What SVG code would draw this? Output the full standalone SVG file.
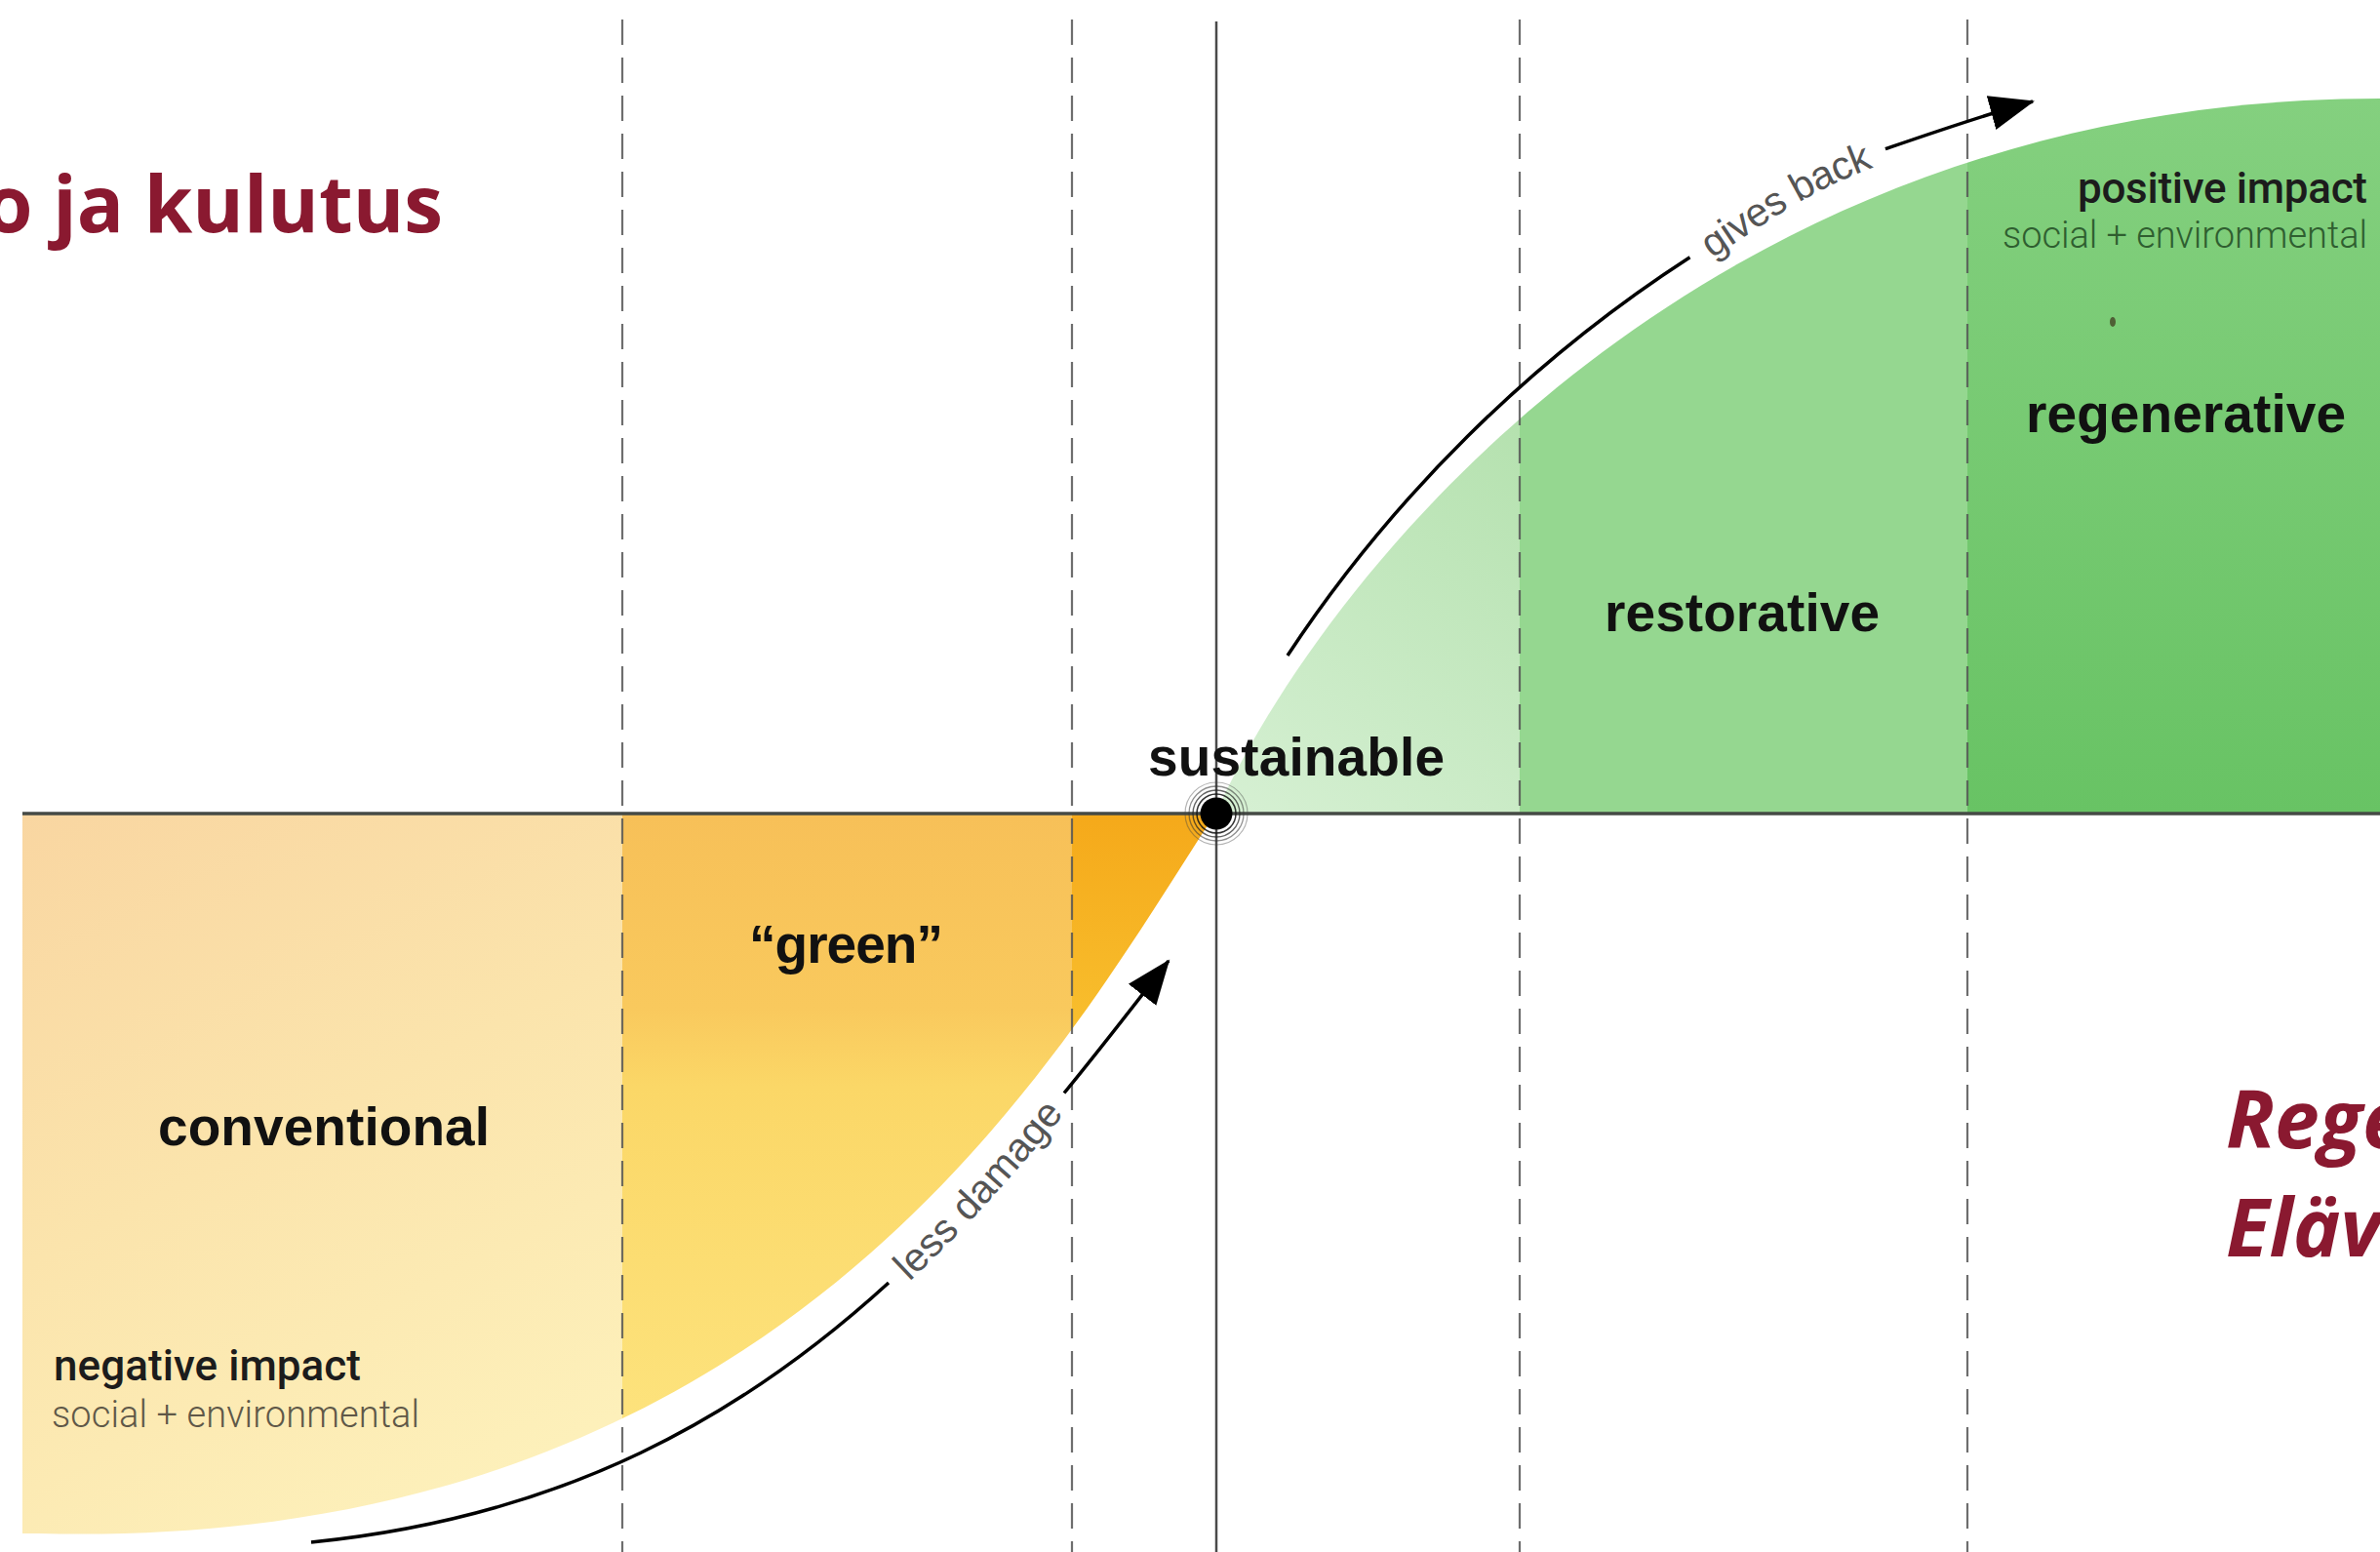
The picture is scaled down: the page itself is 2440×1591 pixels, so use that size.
<svg xmlns="http://www.w3.org/2000/svg" width="2440" height="1591" viewBox="0 0 2440 1591">
<style>
.lbl{font-family:"Liberation Sans",Arial,sans-serif;font-weight:700;font-size:55px;fill:#111}
.imp{font-family:Roboto,"Liberation Sans",Arial,sans-serif;font-weight:500;font-size:44px;fill:#1c1c1c}
.sub{font-family:Roboto,"Liberation Sans",Arial,sans-serif;font-weight:300;font-size:38px}
.arrtxt{font-family:"Liberation Sans",Arial,sans-serif;font-size:41px;fill:#555}
.title{font-family:"Open Sans","Noto Sans",sans-serif;font-weight:700;fill:#8a1930}
.dash{stroke:#555;stroke-width:2.2;stroke-dasharray:26 13;opacity:0.85}
.arrow{fill:none;stroke:#000;stroke-width:3.5}
</style>
<defs>
<clipPath id="clipOrange"><path d="M23,834 L1246,834 C1096,1062 820,1592 40,1572 L23,1572 Z"/></clipPath>
<clipPath id="clipGreen"><path d="M1246,834 C1368,568 1760,101 2440,101 L2440,834 Z"/></clipPath>
<linearGradient id="gConv" gradientUnits="userSpaceOnUse" x1="23" y1="834" x2="400" y2="1570">
<stop offset="0" stop-color="#f9d6a1"/><stop offset="0.5" stop-color="#fbe4ac"/><stop offset="1" stop-color="#fdf0ba"/>
</linearGradient>
<linearGradient id="gGreenLbl" gradientUnits="userSpaceOnUse" x1="0" y1="834" x2="0" y2="1500">
<stop offset="0" stop-color="#f7c058"/><stop offset="0.3" stop-color="#f9c95d"/><stop offset="0.42" stop-color="#fbd767"/><stop offset="1" stop-color="#fde47f"/>
</linearGradient>
<linearGradient id="gOr" gradientUnits="userSpaceOnUse" x1="0" y1="834" x2="0" y2="1060">
<stop offset="0" stop-color="#f5a91a"/><stop offset="1" stop-color="#f8bf2e"/>
</linearGradient>
<linearGradient id="gLight" gradientUnits="userSpaceOnUse" x1="1260" y1="834" x2="1558" y2="420">
<stop offset="0" stop-color="#d6f0d3"/><stop offset="1" stop-color="#b4e1ae"/>
</linearGradient>
<linearGradient id="gRegen" gradientUnits="userSpaceOnUse" x1="0" y1="100" x2="0" y2="834">
<stop offset="0" stop-color="#84d07f"/><stop offset="1" stop-color="#68c364"/>
</linearGradient>
<marker id="ah" markerUnits="userSpaceOnUse" markerWidth="48" markerHeight="38" refX="44" refY="19" orient="auto">
<path d="M0,1 L46,19 L0,37 Z" fill="#000"/>
</marker>
</defs>
<rect width="2440" height="1591" fill="#fff"/>

<g id="title">
<text class="title" x="454" y="238" font-size="80" text-anchor="end">o ja kulutus</text>
</g>

<g id="area-negative" clip-path="url(#clipOrange)">
<rect x="23" y="834" width="615" height="745" fill="url(#gConv)"/>
<rect x="638" y="834" width="461" height="745" fill="url(#gGreenLbl)"/>
<rect x="1099" y="834" width="148" height="745" fill="url(#gOr)"/>
</g>

<g id="area-positive" clip-path="url(#clipGreen)">
<rect x="1246" y="90" width="312" height="744" fill="url(#gLight)"/>
<rect x="1558" y="90" width="459" height="744" fill="#95d790"/>
<rect x="2017" y="90" width="423" height="744" fill="url(#gRegen)"/>
<ellipse cx="2166" cy="330" rx="3" ry="5" fill="#4f5f35"/>
</g>

<g id="gridlines">
<line class="dash" x1="638" y1="20" x2="638" y2="1591"/>
<line class="dash" x1="1099" y1="20" x2="1099" y2="1591"/>
<line class="dash" x1="1558" y1="20" x2="1558" y2="1591"/>
<line class="dash" x1="2017" y1="20" x2="2017" y2="1591"/>
</g>

<g id="axes">
<line x1="1247" y1="22" x2="1247" y2="1591" stroke="#4a4a4a" stroke-width="2.5"/>
<line x1="23" y1="834" x2="2440" y2="834" stroke="#454a45" stroke-width="3.5"/>
</g>

<g id="connectors">
<path class="arrow" d="M319,1581 C580,1555 762,1451 911,1315"/>
<path class="arrow" d="M1091,1120.5 C1127.5,1076 1162.8,1030.5 1198,985" marker-end="url(#ah)"/>
<path id="ldPath" fill="none" d="M910.9,1315.3 C976.2,1255.5 1035,1189.3 1091.1,1120.5"/>
<text class="arrtxt"><textPath href="#ldPath" startOffset="50%" text-anchor="middle"><tspan dy="0.33em">less damage</tspan></textPath></text>
<path class="arrow" d="M1320,672 C1425.6,511.7 1568.5,369.8 1732.5,263.8"/>
<path class="arrow" d="M1932.9,152.7 C1989.1,133.4 2036.2,117.1 2084,104" marker-end="url(#ah)"/>
<path id="gbPath" fill="none" d="M1732.5,263.8 C1799.4,220.6 1844,183.1 1932.9,152.7"/>
<text class="arrtxt"><textPath href="#gbPath" startOffset="50%" text-anchor="middle"><tspan dy="0.33em">gives back</tspan></textPath></text>
</g>

<g id="node-sustainable">
<circle cx="1247" cy="834" r="32" fill="none" stroke="#444" stroke-width="1.2" opacity="0.4"/>
<circle cx="1247" cy="834" r="28" fill="none" stroke="#333" stroke-width="1.3" opacity="0.55"/>
<circle cx="1247" cy="834" r="24" fill="none" stroke="#222" stroke-width="1.4" opacity="0.7"/>
<circle cx="1247" cy="834" r="20" fill="none" stroke="#111" stroke-width="1.5" opacity="0.85"/>
<circle cx="1247" cy="834" r="16.5" fill="#000"/>
<text class="lbl" x="1177" y="795" font-size="54" textLength="304">sustainable</text>
</g>

<g id="node-conventional">
<text class="lbl" x="162" y="1174" textLength="340">conventional</text>
<text class="imp" x="55" y="1415" textLength="315">negative impact</text>
<text class="sub" x="53" y="1463" fill="#5f5848" textLength="377">social + environmental</text>
</g>

<g id="node-green">
<text class="lbl" x="768" y="987" textLength="199">“green”</text>
</g>

<g id="node-restorative">
<text class="lbl" x="1645" y="647" textLength="282">restorative</text>
</g>

<g id="node-regenerative">
<text class="imp" x="2130" y="208" textLength="297">positive impact</text>
<text class="sub" x="2053" y="254" fill="#2f5e30" textLength="374">social + environmental</text>
<text class="lbl" x="2077" y="443" textLength="328">regenerative</text>
</g>

<g id="caption">
<text class="title" x="2282" y="1177" font-size="82" font-style="italic">Rege</text>
<text class="title" x="2282" y="1288" font-size="82" font-style="italic">Eläv</text>
</g>
</svg>
